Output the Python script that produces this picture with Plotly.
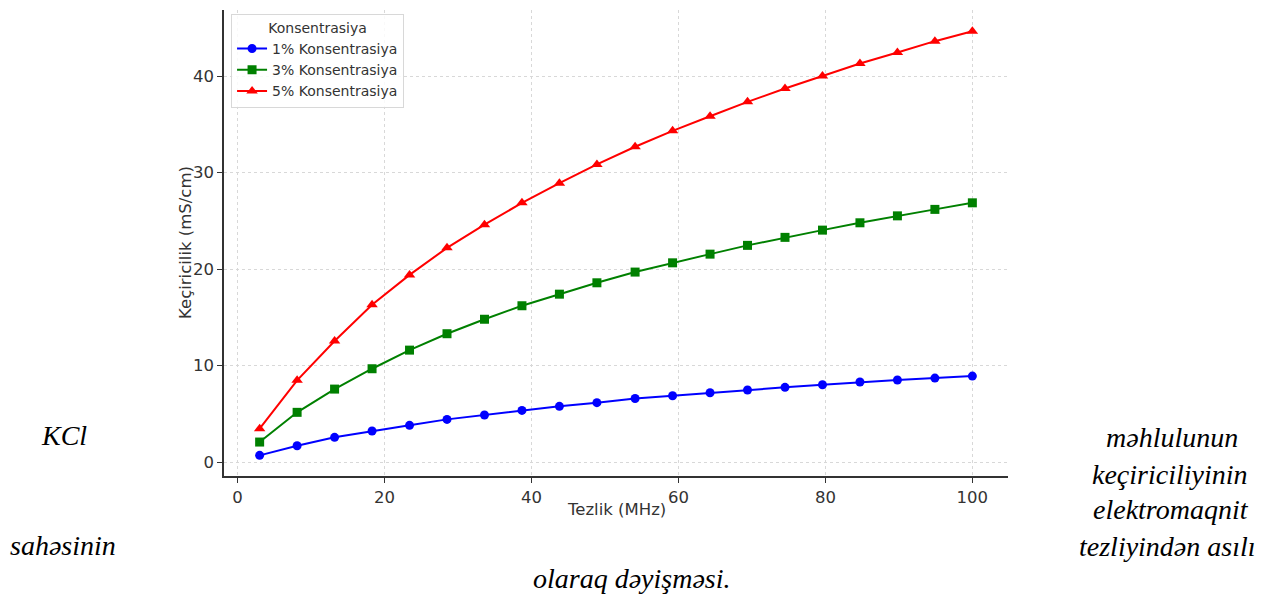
import plotly.graph_objects as go

# Frequency (MHz) and conductivity (mS/cm) for three KCl concentrations
freq_mhz = [3.0, 8.1, 13.2, 18.3, 23.4, 28.5, 33.6, 38.7, 43.8, 48.9,
            54.1, 59.2, 64.3, 69.4, 74.5, 79.6, 84.7, 89.8, 94.9, 100.0]
cond_1pct = [0.69, 1.69, 2.56, 3.21, 3.80, 4.42, 4.87, 5.35, 5.77, 6.15,
             6.58, 6.87, 7.18, 7.46, 7.74, 8.01, 8.29, 8.50, 8.70, 8.91]
cond_3pct = [2.07, 5.15, 7.56, 9.67, 11.6, 13.3, 14.8, 16.2, 17.4, 18.58,
             19.69, 20.65, 21.55, 22.46, 23.29, 24.04, 24.80, 25.52, 26.19, 26.87]
cond_5pct = [3.45, 8.47, 12.54, 16.3, 19.4, 22.2, 24.6, 26.87, 28.91, 30.85,
             32.68, 34.33, 35.85, 37.34, 38.72, 40.03, 41.32, 42.46, 43.63, 44.66]

series_names = ["1% Konsentrasiya", "3% Konsentrasiya", "5% Konsentrasiya"]
series_values = [cond_1pct, cond_3pct, cond_5pct]
series_colors = ["#0000ff", "#008000", "#ff0000"]
series_symbols = ["circle", "square", "triangle-up"]
series_marker_sizes = [9, 9, 10]

x_ticks = [0, 20, 40, 60, 80, 100]
y_ticks = [0, 10, 20, 30, 40]

PLOT_L, PLOT_R, PLOT_T, PLOT_B = 224, 1008, 10, 476

fig = go.Figure()
for name, vals, color, sym, msize in zip(series_names, series_values, series_colors,
                                          series_symbols, series_marker_sizes):
    fig.add_trace(go.Scatter(
        x=freq_mhz, y=vals, name=name, mode="lines+markers",
        line=dict(color=color, width=2),
        marker=dict(symbol=sym, size=msize, color=color),
    ))

axis_font = dict(family="DejaVu Sans", size=16.5, color="#333333")
fig.update_layout(
    width=1268, height=595,
    margin=dict(l=PLOT_L, r=1268 - PLOT_R, t=PLOT_T, b=595 - PLOT_B),
    paper_bgcolor="white", plot_bgcolor="white",
    showlegend=True,
    legend=dict(
        title=dict(text="Konsentrasiya", side="top center",
                   font=dict(family="DejaVu Sans", size=14, color="#333333")),
        font=dict(family="DejaVu Sans", size=14, color="#333333"),
        x=0.009, y=0.992, xanchor="left", yanchor="top",
        bgcolor="rgba(255,255,255,0.85)", bordercolor="#d8d8d8", borderwidth=1,
        tracegroupgap=0, itemwidth=30,
    ),
    xaxis=dict(
        range=[-1.85, 104.85], tickvals=x_ticks,
        tickfont=axis_font, showline=True, linecolor="#333333", linewidth=1.5,
        ticks="outside", ticklen=5, tickcolor="#333333",
        showgrid=True, gridcolor="#d8d8d8", griddash="dot", gridwidth=1,
        zeroline=False, mirror=False,
    ),
    yaxis=dict(
        range=[-1.45, 46.86], tickvals=y_ticks,
        tickfont=axis_font, showline=True, linecolor="#333333", linewidth=1.5,
        ticks="outside", ticklen=5, tickcolor="#333333",
        showgrid=True, gridcolor="#d8d8d8", griddash="dot", gridwidth=1,
        zeroline=False, mirror=False,
    ),
)


def to_paper(px, py):
    return (px - PLOT_L) / (PLOT_R - PLOT_L), (PLOT_B - py) / (PLOT_B - PLOT_T)


# Axis titles
tx, ty = to_paper(616, 509)
fig.add_annotation(text="Tezlik (MHz)", xref="paper", yref="paper", x=tx, y=ty,
                   xanchor="center", yanchor="middle", showarrow=False, font=axis_font)
tx, ty = to_paper(185, 243)
fig.add_annotation(text="Keçiricilik (mS/cm)", xref="paper", yref="paper", x=tx, y=ty,
                   xanchor="center", yanchor="middle", showarrow=False, font=axis_font,
                   textangle=-90)

# Caption text set around the chart
caption_font = dict(family="Times New Roman, Liberation Serif, serif", size=28,
                    color="#000000", style="italic")
captions = [
    ("KCl", 64, 435),
    ("sahəsinin", 63, 545),
    ("məhlulunun", 1172, 437),
    ("keçiriciliyinin", 1170, 474),
    ("elektromaqnit", 1171, 510),
    ("tezliyindən asılı", 1167, 546),
    ("olaraq dəyişməsi.", 632, 578),
]
for text, px, py in captions:
    cx, cy = to_paper(px, py)
    fig.add_annotation(
        text=text, xref="paper", yref="paper", x=cx, y=cy,
        xanchor="center", yanchor="middle", showarrow=False, font=caption_font,
    )

fig.write_html("out.html")
